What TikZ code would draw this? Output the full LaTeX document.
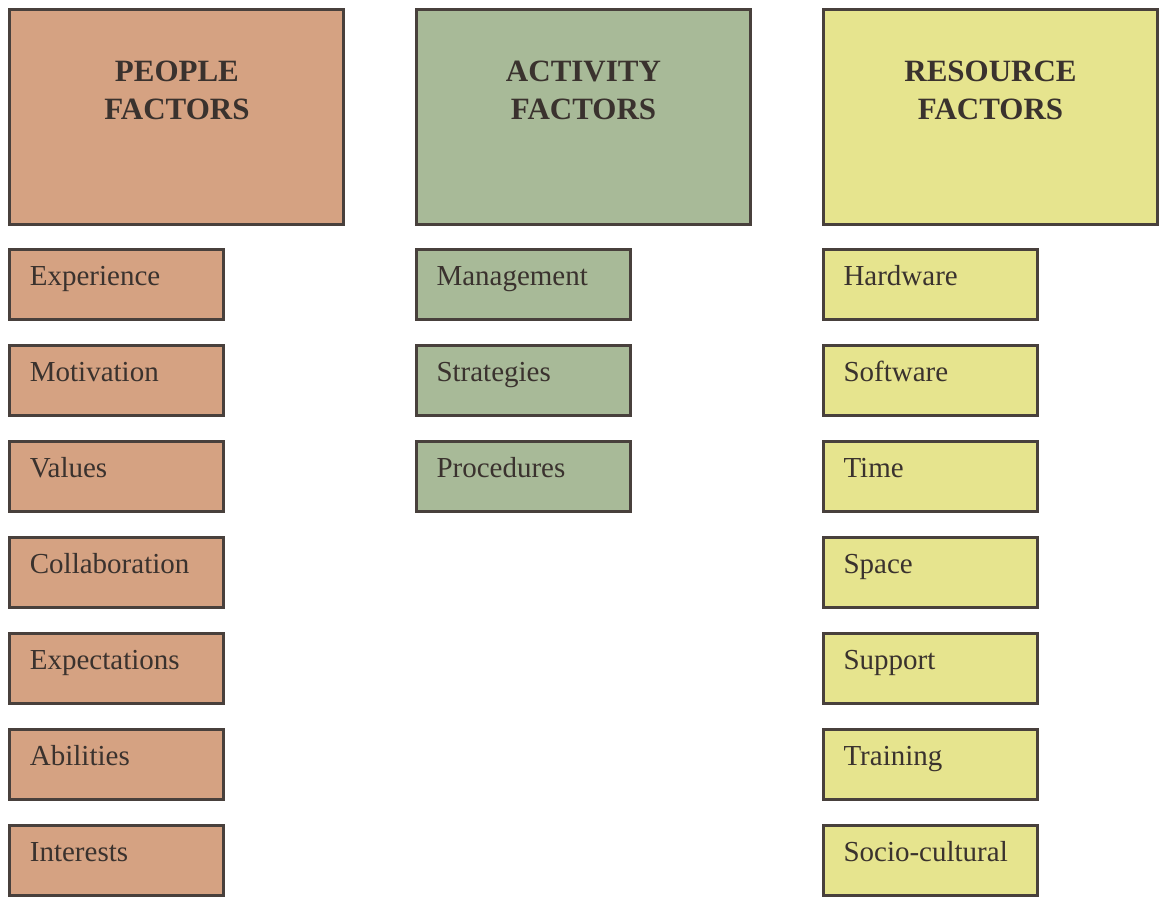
\documentclass[tikz,border=0pt]{standalone}
\usepackage{fontspec}
\setmainfont{Liberation Serif}
\usetikzlibrary{positioning}

\definecolor{peoplefill}{RGB}{213,162,130}
\definecolor{activityfill}{RGB}{168,186,152}
\definecolor{resourcefill}{RGB}{230,228,142}
\definecolor{edgegray}{RGB}{72,64,60}
\definecolor{inkgray}{RGB}{58,50,46}

\begin{document}
\begin{tikzpicture}[
    node distance=11.5pt,
    every node/.style={text=inkgray},
    header/.style={draw=edgegray, line width=1.5pt, align=center, minimum width=167pt, minimum height=107.5pt, font=\fontsize{15.5}{19}\selectfont\bfseries, text height=10.3pt, text depth=8pt},
    item/.style={draw=edgegray, line width=1.5pt, align=left, text width=87pt, inner xsep=10pt, minimum height=35pt, font=\fontsize{14.5}{17}\selectfont, text height=10pt, text depth=9pt}
]
\useasboundingbox (0,0) rectangle (583pt,-449pt);
% column headers
\node[header, fill=peoplefill, anchor=north west] (people) at (4.2pt,-4pt) {PEOPLE\\FACTORS};
\node[header, fill=activityfill, right=34.8pt of people] (activity) {ACTIVITY\\FACTORS};
\node[header, fill=resourcefill, right=35pt of activity] (resource) {RESOURCE\\FACTORS};
% people factors
\node[item, fill=peoplefill, below right=11pt and 0pt of people.south west] (experience) {Experience};
\node[item, fill=peoplefill, below=of experience] (motivation) {Motivation};
\node[item, fill=peoplefill, below=of motivation] (values) {Values};
\node[item, fill=peoplefill, below=of values] (collaboration) {Collaboration};
\node[item, fill=peoplefill, below=of collaboration] (expectations) {Expectations};
\node[item, fill=peoplefill, below=of expectations] (abilities) {Abilities};
\node[item, fill=peoplefill, below=of abilities] (interests) {Interests};
% activity factors
\node[item, fill=activityfill, below right=11pt and 0pt of activity.south west] (management) {Management};
\node[item, fill=activityfill, below=of management] (strategies) {Strategies};
\node[item, fill=activityfill, below=of strategies] (procedures) {Procedures};
% resource factors
\node[item, fill=resourcefill, below right=11pt and 0pt of resource.south west] (hardware) {Hardware};
\node[item, fill=resourcefill, below=of hardware] (software) {Software};
\node[item, fill=resourcefill, below=of software] (time) {Time};
\node[item, fill=resourcefill, below=of time] (space) {Space};
\node[item, fill=resourcefill, below=of space] (support) {Support};
\node[item, fill=resourcefill, below=of support] (training) {Training};
\node[item, fill=resourcefill, below=of training] (sociocultural) {Socio-cultural};
\end{tikzpicture}
\end{document}
